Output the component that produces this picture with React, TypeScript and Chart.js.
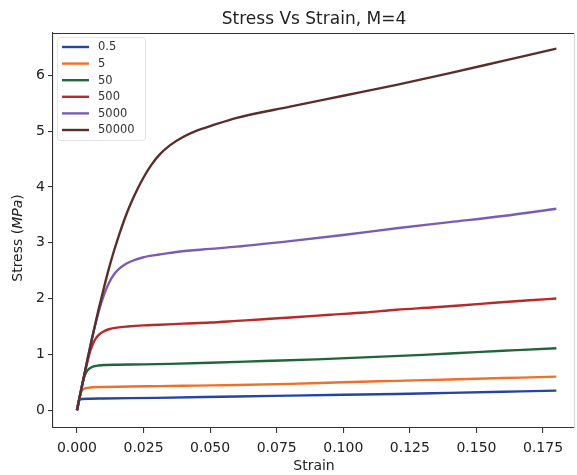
import { useEffect, useRef } from "react";
import { Chart, registerables } from "chart.js";

Chart.register(...registerables);

// Legend labels (load-rate parameter) and line colours
const seriesLabels = ["0.5", "5", "50", "500", "5000", "50000"];
const seriesColors = ["#2544a4", "#f07028", "#21663a", "#b82a2a", "#7a5cb5", "#5a2e2b"];

// Strain / stress samples for each curve
const strain05 = [0, 0.0008, 0.0013, 0.002, 0.004, 0.01, 0.03, 0.06, 0.08, 0.1, 0.12, 0.14, 0.16, 0.18];
const stress05 = [0, 0.17, 0.195, 0.2, 0.205, 0.21, 0.22, 0.245, 0.26, 0.275, 0.29, 0.31, 0.33, 0.35];

const strain5 = [0, 0.0014, 0.0022, 0.003, 0.004, 0.006, 0.01, 0.02, 0.031, 0.045, 0.06, 0.08, 0.1, 0.12, 0.14, 0.16, 0.18];
const stress5 = [0, 0.31, 0.37, 0.39, 0.4, 0.41, 0.415, 0.425, 0.43, 0.44, 0.45, 0.47, 0.5, 0.525, 0.55, 0.575, 0.6];

const strain50 = [0, 0.0025, 0.0035, 0.0045, 0.006, 0.008, 0.011, 0.015, 0.025, 0.035, 0.05, 0.07, 0.09, 0.11, 0.13, 0.15, 0.165, 0.18];
const stress50 = [0, 0.56, 0.68, 0.74, 0.78, 0.8, 0.81, 0.815, 0.82, 0.83, 0.85, 0.88, 0.91, 0.95, 0.99, 1.04, 1.075, 1.11];

const strain500 = [0, 0.003, 0.004, 0.005, 0.0065, 0.008, 0.01, 0.012, 0.015, 0.019, 0.025, 0.031, 0.04, 0.05, 0.06, 0.07, 0.083, 0.095, 0.108, 0.12, 0.133, 0.145, 0.158, 0.17, 0.18];
const stress500 = [0, 0.68, 0.88, 1.06, 1.24, 1.34, 1.41, 1.45, 1.48, 1.5, 1.52, 1.53, 1.55, 1.57, 1.6, 1.63, 1.67, 1.71, 1.75, 1.8, 1.84, 1.88, 1.93, 1.97, 2.0];

const strain5000 = [0, 0.006, 0.008, 0.01, 0.012, 0.014, 0.016, 0.018, 0.02, 0.025, 0.031, 0.038, 0.05, 0.06, 0.08, 0.1, 0.12, 0.14, 0.16, 0.18];
const stress5000 = [0, 1.36, 1.74, 2.05, 2.28, 2.44, 2.54, 2.61, 2.66, 2.74, 2.79, 2.84, 2.89, 2.93, 3.03, 3.14, 3.26, 3.37, 3.48, 3.61];

const strain50000 = [0, 0.002, 0.004, 0.006, 0.008, 0.01, 0.012, 0.014, 0.016, 0.018, 0.02, 0.0225, 0.025, 0.028, 0.031, 0.035, 0.04, 0.045, 0.05, 0.06, 0.08, 0.1, 0.12, 0.14, 0.16, 0.18];
const stress50000 = [0, 0.46, 0.92, 1.36, 1.78, 2.17, 2.54, 2.87, 3.17, 3.44, 3.68, 3.94, 4.17, 4.4, 4.58, 4.75, 4.9, 5.01, 5.09, 5.24, 5.44, 5.635, 5.83, 6.04, 6.26, 6.48];

const strainSeries = [strain05, strain5, strain50, strain500, strain5000, strain50000];
const stressSeries = [stress05, stress5, stress50, stress500, stress5000, stress50000];

// Axis ticks
const xTicks = [0, 0.025, 0.05, 0.075, 0.1, 0.125, 0.15, 0.175];
const yTicks = [0, 1, 2, 3, 4, 5, 6];

const titleText = "Stress Vs Strain, M=4";
const xTitle = "Strain";

const FONT = "'DejaVu Sans', sans-serif";
const INK = "#222";

const decorations = {
  id: "decorations",
  afterDraw(chart: any) {
    const { ctx, chartArea: a } = chart;
    ctx.save();

    // remaining frame edges
    ctx.strokeStyle = "#333";
    ctx.lineWidth = 1.1;
    ctx.beginPath();
    ctx.moveTo(a.left, a.top + 0.5);
    ctx.lineTo(a.right, a.top + 0.5);
    ctx.stroke();
    ctx.strokeStyle = "#d6d6d6";
    ctx.beginPath();
    ctx.moveTo(a.right - 0.5, a.top);
    ctx.lineTo(a.right - 0.5, a.bottom);
    ctx.stroke();

    // title
    ctx.fillStyle = INK;
    ctx.textAlign = "center";
    ctx.textBaseline = "middle";
    ctx.font = `17px ${FONT}`;
    ctx.fillText(titleText, (a.left + a.right) / 2, 20);

    // x axis title
    ctx.font = `14px ${FONT}`;
    ctx.fillText(xTitle, (a.left + a.right) / 2, 466);

    // y axis title with italic unit
    const parts = [
      { t: "Stress (", italic: false },
      { t: "MPa", italic: true },
      { t: ")", italic: false },
    ];
    const widths = parts.map((p) => {
      ctx.font = `${p.italic ? "italic " : ""}14px ${FONT}`;
      return ctx.measureText(p.t).width;
    });
    const total = widths.reduce((s, w) => s + w, 0);
    ctx.translate(18, 238);
    ctx.rotate(-Math.PI / 2);
    ctx.textAlign = "left";
    let cx = -total / 2;
    parts.forEach((p, i) => {
      ctx.font = `${p.italic ? "italic " : ""}14px ${FONT}`;
      ctx.fillText(p.t, cx, 0);
      cx += widths[i];
    });
    ctx.setTransform(1, 0, 0, 1, 0, 0);

    // legend
    const lx = a.left + 4;
    const ly = a.top + 4;
    ctx.strokeStyle = "rgba(0,0,0,0.1)";
    ctx.fillStyle = "rgba(255,255,255,0.85)";
    ctx.lineWidth = 1;
    ctx.beginPath();
    (ctx as any).roundRect(lx + 0.5, ly + 0.5, 88, 103, 3);
    ctx.fill();
    ctx.stroke();

    ctx.font = `11.5px ${FONT}`;
    ctx.textAlign = "left";
    ctx.textBaseline = "middle";
    chart.data.datasets.forEach((ds: any, i: number) => {
      const y = 47 + i * 16.6;
      ctx.strokeStyle = ds.borderColor;
      ctx.lineWidth = 2.4;
      ctx.beginPath();
      ctx.moveTo(62, y);
      ctx.lineTo(89, y);
      ctx.stroke();
      ctx.fillStyle = "#333";
      ctx.fillText(ds.label, 98, y + 0.5);
    });

    ctx.restore();
  },
};

export default function App() {
  const canvasRef = useRef<HTMLCanvasElement | null>(null);

  useEffect(() => {
    if (!canvasRef.current) return;
    const datasets = seriesLabels.map((label, i) => ({
      label,
      data: strainSeries[i].map((x, j) => ({ x, y: stressSeries[i][j] })),
      borderColor: seriesColors[i],
      backgroundColor: seriesColors[i],
      borderWidth: 2.4,
      pointRadius: 0,
      fill: false,
      cubicInterpolationMode: "monotone" as const,
      order: seriesLabels.length - i,
    }));

    const chart = new Chart(canvasRef.current, {
      type: "line",
      data: { datasets },
      plugins: [decorations],
      options: {
        animation: false,
        responsive: false,
        maintainAspectRatio: false,
        layout: { padding: { top: 33, right: 2, left: 0, bottom: 0 } },
        plugins: {
          legend: { display: false },
          tooltip: { enabled: false },
          title: { display: false },
        },
        scales: {
          x: {
            type: "linear",
            min: -0.009,
            max: 0.187,
            afterBuildTicks: (scale: any) => {
              scale.ticks = xTicks.map((v) => ({ value: v }));
            },
            afterFit: (scale: any) => {
              scale.height = 47;
            },
            ticks: {
              color: INK,
              font: { family: FONT, size: 14 },
              padding: 6.5,
              maxRotation: 0,
              autoSkip: false,
              callback: (v: any) => Number(v).toFixed(3),
            },
            grid: {
              drawOnChartArea: false,
              drawTicks: true,
              tickLength: 5,
              color: "#333",
              lineWidth: 1.1,
            },
            border: { display: true, color: "#333", width: 1.1 },
          },
          y: {
            type: "linear",
            min: -0.32,
            max: 6.76,
            afterBuildTicks: (scale: any) => {
              scale.ticks = yTicks.map((v) => ({ value: v }));
            },
            afterFit: (scale: any) => {
              scale.width = 53;
            },
            ticks: {
              color: INK,
              font: { family: FONT, size: 14 },
              padding: 3,
              autoSkip: false,
              callback: (v: any) => String(v),
            },
            grid: {
              drawOnChartArea: false,
              drawTicks: true,
              tickLength: 5,
              color: "#333",
              lineWidth: 1.1,
            },
            border: { display: true, color: "#333", width: 1.1 },
          },
        },
      },
    });
    return () => chart.destroy();
  }, []);

  return (
    <div style={{ position: "fixed", left: 0, top: 0, width: 577, height: 475, background: "#fff" }}>
      <canvas ref={canvasRef} width={577} height={475} style={{ display: "block" }} />
    </div>
  );
}
